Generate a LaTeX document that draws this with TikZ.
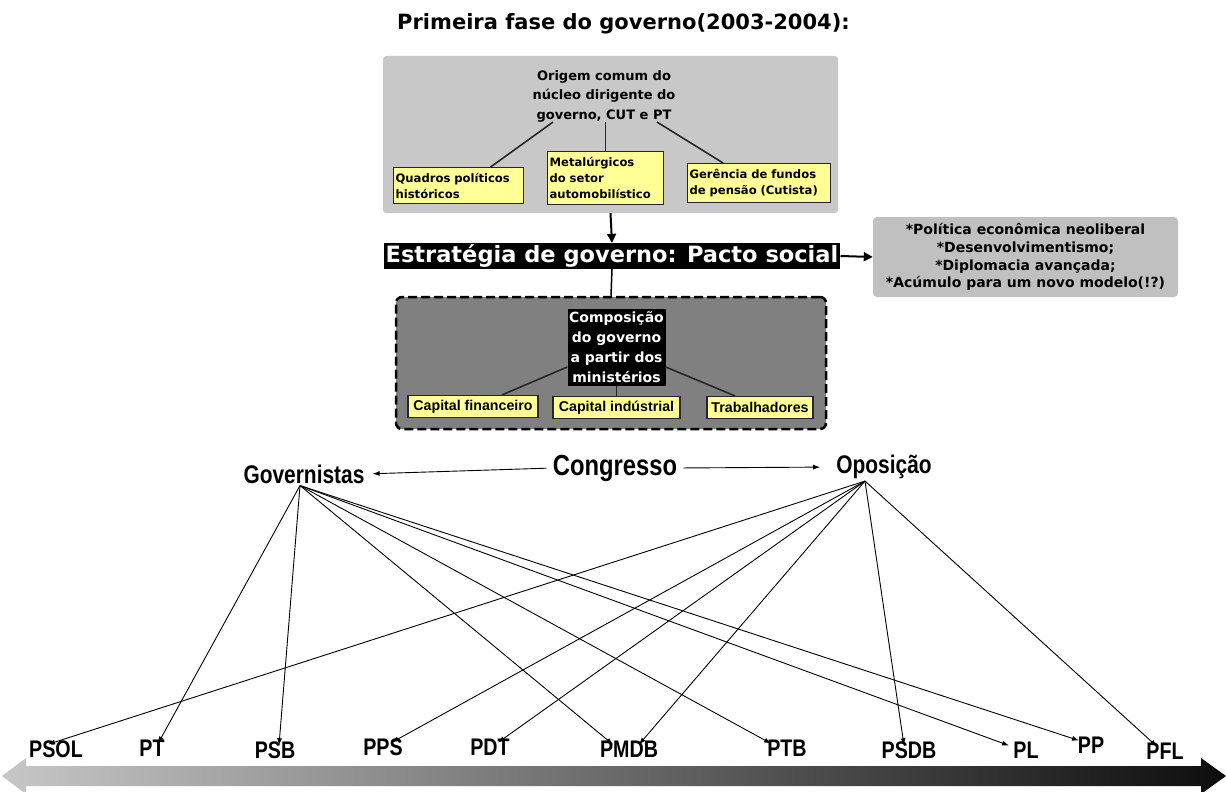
\documentclass[tikz,border=0pt]{standalone}
\usepackage{fontspec}
\setmainfont{DejaVu Sans}
\newfontfamily\arialfont{Liberation Sans}
\newfontfamily\narrowfont[FakeStretch=0.82]{Liberation Sans}
\usetikzlibrary{arrows.meta}

\definecolor{boxgray}{RGB}{200,200,200}
\definecolor{notegray}{RGB}{192,192,192}
\definecolor{compgray}{RGB}{128,128,128}
\definecolor{noteyellow}{RGB}{255,255,150}

\begin{document}
\begin{tikzpicture}[x=1pt,y=-1pt,
    every node/.style={inner sep=0pt},
    quadro/.style={draw=black!85, line width=1.2pt, fill=noteyellow, inner sep=2pt,
      align=left, anchor=north west, font=\bfseries\fontsize{11.6}{16}\selectfont},
    quadro baixo/.style={draw=black!85, line width=1.2pt, fill=noteyellow, inner xsep=2pt,
      minimum height=22pt, font=\arialfont\bfseries\fontsize{14.2}{16}\selectfont},
    elo/.style={line width=1.6pt, black!85},
    seta grossa/.style={line width=2pt, -{Triangle[length=9pt,width=9pt]}},
    seta fina/.style={line width=0.9pt, -{Latex[length=7pt,width=5pt]}},
    partido/.style={font=\narrowfont\bfseries\fontsize{24}{26}\selectfont}]

    \useasboundingbox (0,0) rectangle (1227,792);

    \node[anchor=west, font=\bfseries\fontsize{21}{24}\selectfont] (titulo) at (397,24) {Primeira fase do governo(2003-2004):};

    \node[fill=boxgray, rounded corners=3pt, minimum width=455pt, minimum height=157pt] (origem box) at (610.5,134.5) {};
    \node[align=center, font=\bfseries\fontsize{13}{19.5}\selectfont] (origem) at (604,96)
      {Origem comum do\\núcleo dirigente do\\governo, CUT e PT};

    \node[quadro, text width=126pt, minimum height=36pt] (quadros) at (393,167) {Quadros políticos\\históricos};
    \node[quadro, text width=112pt, minimum height=53pt] (metal) at (547,151) {Metalúrgicos\\do setor\\automobilístico};
    \node[quadro, text width=139pt, minimum height=39pt] (gerencia) at (687,163) {Gerência de fundos\\de pensão (Cutista)};

    \draw[elo] ([xshift=-51pt]origem.south) -- ([xshift=32pt]quadros.north);
    \draw[elo] (origem.south -| metal.north) -- (metal.north);
    \draw[elo] ([xshift=53pt]origem.south) -- ([xshift=-36pt]gerencia.north);

    \node[fill=black, text=white, inner xsep=2pt, inner ysep=1.5pt,
      font=\bfseries\fontsize{22.5}{26}\selectfont] (pacto) at (612,256) {Estratégia de governo: Pacto social};
    \node[fill=notegray, rounded corners=4pt, minimum width=305pt, minimum height=80pt, align=center,
      font=\bfseries\fontsize{14}{17.8}\selectfont] (nota) at (1025.5,257)
      {*Política econômica neoliberal\\*Desenvolvimentismo;\\*Diplomacia avançada;\\*Acúmulo para um novo modelo(!?)};

    \draw[seta grossa] (origem box.south) -- (pacto.north);
    \draw[seta grossa] (pacto.east) -- (nota.west);

    \node[draw=black, fill=compgray, line width=2.5pt, dash pattern=on 9pt off 4pt, rounded corners=6pt,
      minimum width=430pt, minimum height=132pt] (comp box) at (611,363) {};
    \draw[line width=1.5pt] (pacto.south) -- (comp box.north);

    \node[fill=black, text=white, align=center, minimum width=98pt, minimum height=77pt,
      font=\bfseries\fontsize{14}{20}\selectfont] (comp) at (616.5,347) {Composição\\do governo\\a partir dos\\ministérios};

    \node[quadro baixo, minimum width=130pt] (financeiro) at (473,406.5) {Capital financeiro};
    \node[quadro baixo, minimum width=127pt] (industrial) at (616.5,407.5) {Capital indústrial};
    \node[quadro baixo, minimum width=106pt] (trab) at (760,407.5) {Trabalhadores};

    \draw[elo] ([yshift=-20pt]comp.west) -- ([xshift=29pt]financeiro.north);
    \draw[elo] (comp.south) -- (industrial.north);
    \draw[elo] ([yshift=-20pt]comp.east) -- ([xshift=-25pt]trab.north);

    \node[font=\narrowfont\bfseries\fontsize{29}{32}\selectfont] (congresso) at (615,468) {Congresso};
    \node[font=\narrowfont\bfseries\fontsize{25.5}{28}\selectfont] (gov) at (304,474) {Governistas};
    \node[font=\narrowfont\bfseries\fontsize{25.5}{28}\selectfont] (opo) at (884,467) {Oposição};
    \draw[seta fina, shorten <=6pt, shorten >=8pt] (congresso.west) -- (gov.east);
    \draw[seta fina, shorten <=6pt, shorten >=16pt] (congresso.east) -- (opo.west);

    \node[partido] (psol) at (56,749) {PSOL};
    \node[partido] (pt)   at (152,748) {PT};
    \node[partido] (psb)  at (275,750) {PSB};
    \node[partido] (pps)  at (383,747) {PPS};
    \node[partido] (pdt)  at (490,747) {PDT};
    \node[partido] (pmdb) at (629,749) {PMDB};
    \node[partido] (ptb)  at (787,748) {PTB};
    \node[partido] (psdb) at (909,750) {PSDB};
    \node[partido] (pl)   at (1026,750) {PL};
    \node[partido] (pp)   at (1091,745) {PP};
    \node[partido] (pfl)  at (1165,751) {PFL};

    \coordinate (gov apex) at ([xshift=-4pt,yshift=-2pt]gov.south);
    \coordinate (opo apex) at ([xshift=-19pt,yshift=-2pt]opo.south);

    \draw[seta fina] (gov apex) -- ([xshift=6pt,yshift=-4pt]pt.north);
    \draw[seta fina] (gov apex) -- ([xshift=4pt,yshift=-4pt]psb.north);
    \draw[seta fina] (gov apex) -- ([xshift=-16pt,yshift=-4pt]pmdb.north);
    \draw[seta fina] (gov apex) -- ([xshift=-16pt,yshift=-4pt]ptb.north);
    \draw[seta fina] (gov apex) -- ([xshift=-17pt,yshift=-4pt]pl.north);
    \draw[seta fina] (gov apex) -- ([xshift=-12pt,yshift=-4pt]pp.north);

    \draw[seta fina] (opo apex) -- ([xshift=-8pt,yshift=-4pt]psol.north);
    \draw[seta fina] (opo apex) -- ([xshift=9pt,yshift=-4pt]pps.north);
    \draw[seta fina] (opo apex) -- ([xshift=8pt,yshift=-4pt]pdt.north);
    \draw[seta fina] (opo apex) -- ([xshift=10pt,yshift=-4pt]pmdb.north);
    \draw[seta fina] (opo apex) -- ([xshift=-5pt,yshift=-4pt]psdb.north);
    \draw[seta fina] (opo apex) -- ([xshift=-8pt,yshift=-4pt]pfl.north);

    \shade[left color=black!22, right color=black!95]
      (2,776) -- (26,758) -- (26,766) -- (1201,766) -- (1201,758) -- (1226,776)
      -- (1201,794) -- (1201,786) -- (26,786) -- (26,794) -- cycle;
\end{tikzpicture}
\end{document}
